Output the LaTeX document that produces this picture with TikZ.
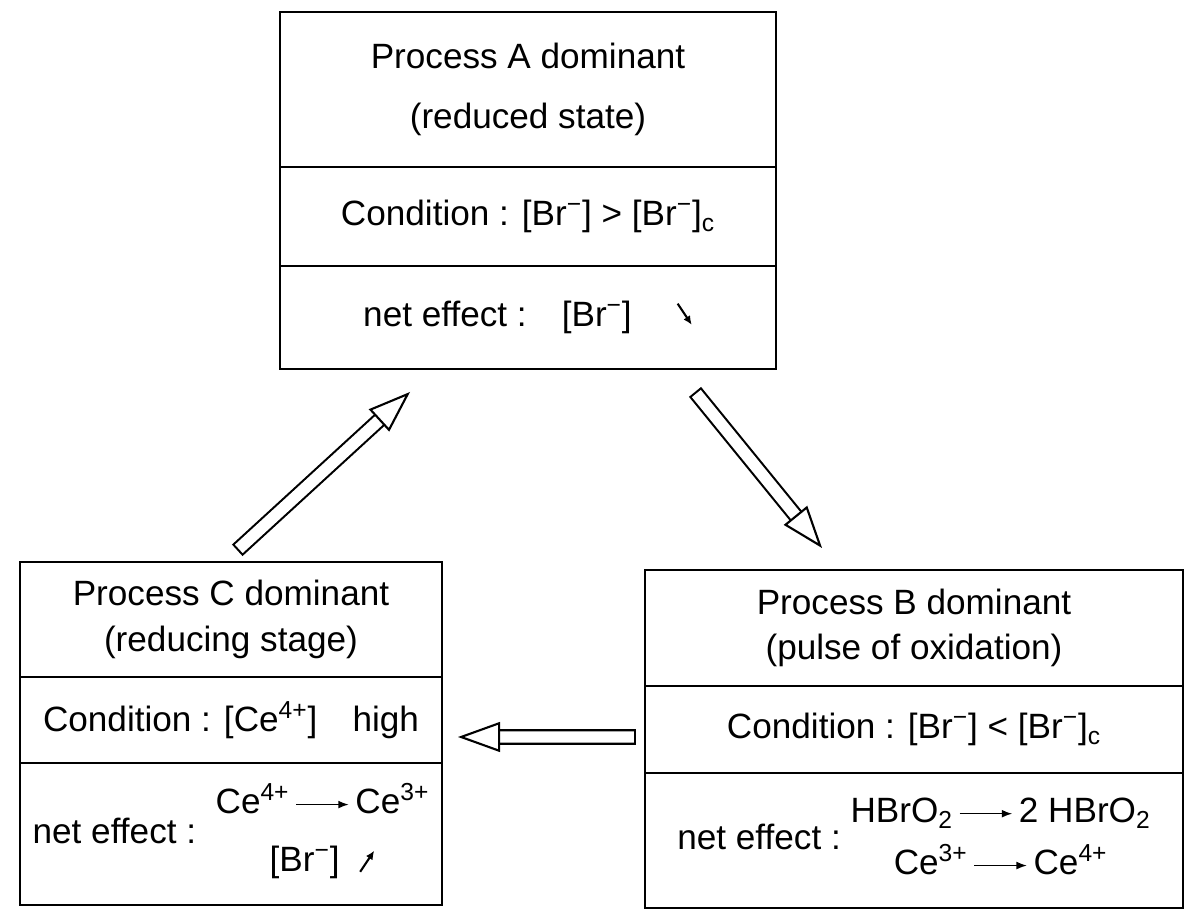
\documentclass[tikz,border=0pt]{standalone}
\usepackage{fontspec}
\setmainfont{Liberation Sans}
\usetikzlibrary{arrows.meta,positioning}

\newcommand{\br}{[Br\textsuperscript{−}]}
\newcommand{\rxn}{\,\tikz[baseline=-0.5ex]\draw[-{Latex[length=6pt,width=4.5pt]},line width=0.9pt] (0,0) -- (30pt,0);\,}
\newcommand{\goesdown}{\tikz[baseline=0pt]\draw[-{Latex[length=5pt,width=4.5pt]},line width=1.2pt] (0,13pt) -- (8pt,1pt);}
\newcommand{\goesup}{\tikz[baseline=0pt]\draw[-{Latex[length=5pt,width=4.5pt]},line width=1.2pt] (0,0) -- (8pt,12pt);}

\begin{document}
\begin{tikzpicture}[x=0.02cm,y=-0.02cm,
  cell/.style={draw,line width=1.3pt,inner sep=2pt,outer sep=0pt,align=center,font=\fontsize{20}{24}\selectfont},
  boxA/.style={cell,minimum width=9.92cm},
  boxB/.style={cell,minimum width=10.76cm},
  boxC/.style={cell,minimum width=8.44cm},
  shaft/.style={draw=black,line width=1.2pt,double=white,double distance=6.5pt,line cap=rect,shorten >=18pt},
  head/.style={draw=white,line width=0.3pt,-{Triangle[length=24pt,width=17pt,line width=1.2pt,color=black,fill=white]}}]
\useasboundingbox (0,0) rectangle (1187,917);

% process A (top)
\node[boxA,minimum height=3.1cm] (procA) at (528,89.5) {Process A dominant\\[10pt](reduced state)};
\node[boxA,minimum height=1.98cm,below=0pt of procA] (condA) {Condition : \br{} > \br\textsubscript{c}};
\node[boxA,minimum height=2.06cm,below=0pt of condA] (effA) {net effect :\quad \br\quad\ \goesdown};

% process C (left)
\node[boxC,minimum height=2.3cm] (procC) at (231,619.5) {Process C dominant\\[2pt](reducing stage)};
\node[boxC,minimum height=1.72cm,below=0pt of procC] (condC) {Condition : [Ce\textsuperscript{4+}]\quad high};
\node[boxC,minimum height=2.84cm,below=0pt of condC] (effC) {net effect :\ \ \begin{tabular}{@{}c@{}}Ce\textsuperscript{4+}\rxn Ce\textsuperscript{3+}\\[9pt]\br\ \ \goesup\end{tabular}};

% process B (right)
\node[boxB,minimum height=2.32cm] (procB) at (914,628) {Process B dominant\\[2pt](pulse of oxidation)};
\node[boxB,minimum height=1.74cm,below=0pt of procB] (condB) {Condition : \br{} < \br\textsubscript{c}};
\node[boxB,minimum height=2.7cm,below=0pt of condB] (effB) {net effect :\ \begin{tabular}{@{}c@{}}HBrO\textsubscript{2}\rxn 2 HBrO\textsubscript{2}\\[5pt]Ce\textsuperscript{3+}\rxn Ce\textsuperscript{4+}\end{tabular}};

% hollow arrows
\coordinate (cTail) at ([shift={(12,-17)}]procC.north);
\coordinate (aTip) at ([shift={(130,23)}]effA.south west);
\coordinate (aTail) at ([shift={(-76,29)}]effA.south east);
\coordinate (bTip) at ([shift={(177,-22)}]procB.north west);
\coordinate (bTail) at ([shift={(-17,7.5)}]condB.west);
\coordinate (cTip) at ([shift={(16,17)}]condC.east);
\draw[shaft] (cTail) -- (aTip);
\draw[head] (cTail) -- (aTip);
\draw[shaft] (aTail) -- (bTip);
\draw[head] (aTail) -- (bTip);
\draw[shaft] (bTail) -- (cTip);
\draw[head] (bTail) -- (cTip);
\end{tikzpicture}
\end{document}
